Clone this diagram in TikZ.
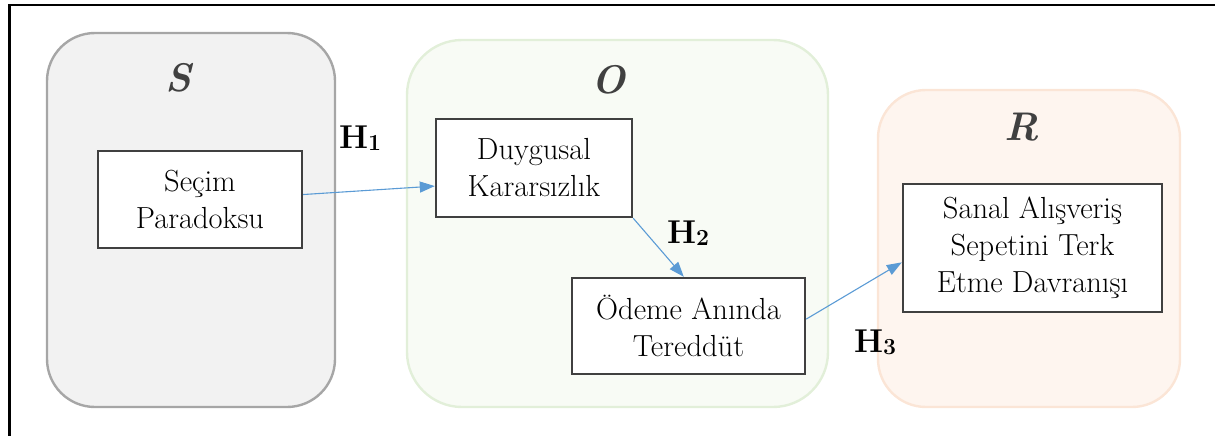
\documentclass[tikz,border=0pt]{standalone}
\usepackage{fontspec}
\usetikzlibrary{arrows.meta,calc}
\definecolor{sfill}{HTML}{F2F2F2}
\definecolor{sline}{HTML}{A6A6A6}
\definecolor{ofill}{HTML}{F8FBF5}
\definecolor{oline}{HTML}{E2EFD9}
\definecolor{rfill}{HTML}{FEF5EF}
\definecolor{rline}{HTML}{FBE5D6}
\definecolor{boxline}{HTML}{404040}
\definecolor{title}{HTML}{404040}
\definecolor{link}{HTML}{5B9BD5}
\tikzset{
  stage/.style={rounded corners=48pt, line width=2.4pt, inner sep=0pt},
  concept/.style={draw=boxline, fill=white, line width=2.4pt, inner sep=0pt,
    align=center, font=\fontsize{30.5}{37}\selectfont},
  stagetitle/.style={text=title, font=\fontsize{40}{40}\selectfont\bfseries\itshape, inner sep=0pt},
  hyp/.style={font=\fontsize{33}{33}\selectfont\bfseries, inner sep=0pt},
  flow/.style={draw=link, line width=1.1pt, -{Triangle[length=15pt,width=11pt]}}
}
\newcommand{\hlabel}[1]{H\raisebox{-2pt}{\fontsize{23}{23}\selectfont #1}}
\begin{document}
\begin{tikzpicture}[x=1pt,y=-1pt]
  \useasboundingbox (0,0) rectangle (1215,436);
  % frame
  \draw[line width=2.2pt] (9.5,436) -- (9.5,5) -- (1215,5);

  % S-O-R stages
  \node[stage, draw=sline, fill=sfill, minimum width=288pt, minimum height=374pt] (S) at (191,220) {};
  \node[stage, draw=oline, fill=ofill, minimum width=421pt, minimum height=367pt, rounded corners=55pt] (O) at (617.5,223.5) {};
  \node[stage, draw=rline, fill=rfill, minimum width=302pt, minimum height=317pt] (R) at (1029,248.5) {};

  \node[stagetitle] (St) at (178,78) {S};
  \node[stagetitle] (Ot) at (609,80) {O};
  \node[stagetitle] (Rt) at (1022,127) {R};

  % concepts
  \node[concept, minimum width=204pt, minimum height=97pt] (secim) at (200,199.5) {Seçim\\Paradoksu};
  \node[concept, minimum width=196pt, minimum height=98pt] (duygu) at (534,168) {Duygusal\\Kararsızlık};
  \node[concept, minimum width=233pt, minimum height=96pt] (odeme) at (688.5,326) {Ödeme Anında\\Tereddüt};
  \node[concept, minimum width=259pt, minimum height=128pt] (sepet) at (1032.5,248) {Sanal Alışveriş\\Sepetini Terk\\Etme Davranışı};

  % hypotheses
  \draw[flow] ($(secim.north east)!0.45!(secim.south east)$) -- ($(duygu.north west)!0.68!(duygu.south west)$);
  \draw[flow] (duygu.south east) -- ($(odeme.north west)!0.48!(odeme.north east)$);
  \draw[flow] ($(odeme.north east)!0.43!(odeme.south east)$) -- ($(sepet.north west)!0.61!(sepet.south west)$);

  \node[hyp] (H1) at (360,138) {\hlabel{1}};
  \node[hyp] (H2) at (688,233) {\hlabel{2}};
  \node[hyp] (H3) at (875,342) {\hlabel{3}};
\end{tikzpicture}
\end{document}
